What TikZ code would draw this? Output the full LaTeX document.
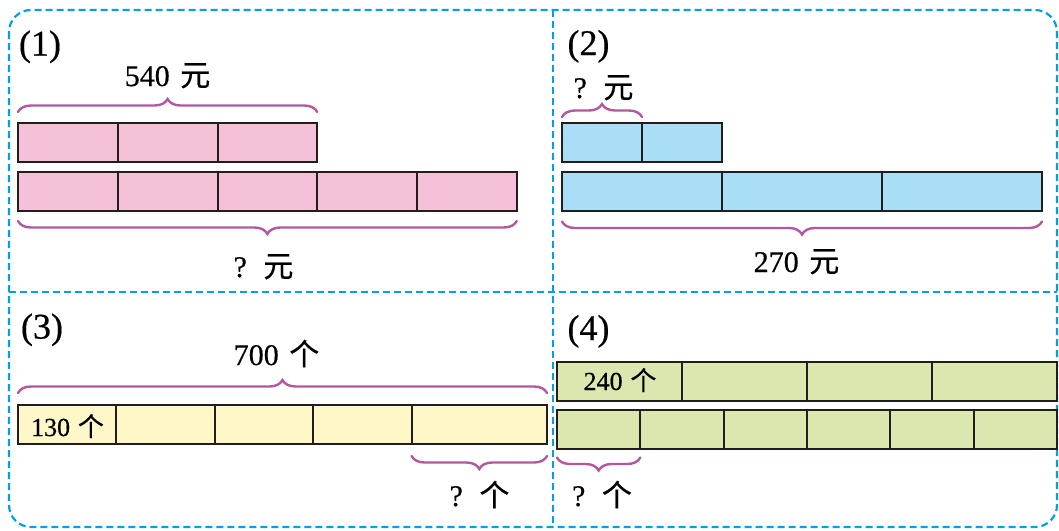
\documentclass[tikz,border=0pt]{standalone}
\usepackage{fontspec}
\setmainfont{Liberation Serif}[FakeBold=0.5]
\newfontfamily\cjk{Noto Sans CJK SC}[FakeBold=0.4]
\usetikzlibrary{decorations.pathreplacing,calc}
\definecolor{framec}{RGB}{0,160,233}
\definecolor{barline}{RGB}{35,30,30}
\definecolor{bracec}{RGB}{178,88,158}
\definecolor{pinkc}{RGB}{245,193,217}
\definecolor{bluec}{RGB}{170,222,247}
\definecolor{yellowc}{RGB}{255,247,200}
\definecolor{greenc}{RGB}{218,231,174}
\newcommand\yuanc{{\cjk 元}}
\newcommand\gec{{\cjk 个}}
\begin{document}
\begin{tikzpicture}[x=1pt,y=-1pt,
  cell/.style={draw=barline,line width=2pt,minimum height=39pt,inner sep=0pt,outer sep=0pt,anchor=north west},
  lbl/.style={anchor=base,inner sep=0pt,font=\fontsize{30}{36}\selectfont},
  slbl/.style={anchor=base,inner sep=0pt,font=\fontsize{26}{31}\selectfont},
  num/.style={anchor=base,inner sep=0pt,font=\fontsize{36}{43}\selectfont},
  brc/.style={decorate,decoration={brace,amplitude=13pt},draw=bracec,line width=2.4pt,line cap=round},
  brcm/.style={brc,decoration={brace,amplitude=13pt,mirror}},
  frame/.style={draw=framec,line width=2.2pt,dash pattern=on 7pt off 4pt}]
\useasboundingbox (0,0) rectangle (1059,530);
% frame
\draw[frame,rounded corners=22pt] (9,10) rectangle (1057,527);
\draw[frame] (553,10) -- (553,527);
\draw[frame] (9,292) -- (1057,292);
% panel 1
\foreach \i in {0,1,2} \node[cell,fill=pinkc,minimum width=99.75pt] (p1t\i) at ({18+99.75*\i},123) {};
\foreach \i in {0,...,4} \node[cell,fill=pinkc,minimum width=99.75pt] (p1b\i) at ({18+99.75*\i},172) {};
\draw[brc] ($(p1t0.north west)+(0,-11)$) -- ($(p1t2.north east)+(0,-11)$);
\draw[brcm] ($(p1b0.south west)+(0,10)$) -- ($(p1b4.south east)+(0,10)$);
\node[num] (n1) at (40,55.5) {(1)};
\node[lbl] (l540) at (167.5,86) {540\hspace{0.35em}\yuanc};
\node[lbl] (lq1) at (263.5,277) {?\hspace{0.55em}\yuanc};
% panel 2
\foreach \i in {0,1} \node[cell,fill=bluec,minimum width=80pt] (p2t\i) at ({562+80*\i},123) {};
\foreach \i in {0,1,2} \node[cell,fill=bluec,minimum width=160pt] (p2b\i) at ({562+160*\i},171.5) {};
\draw[brc] ($(p2t0.north west)+(0,-6)$) -- ($(p2t0.north east)+(0,-6)$);
\draw[brcm] ($(p2b0.south west)+(0,11)$) -- ($(p2b2.south east)+(0,11)$);
\node[num] (n2) at (588.5,55) {(2)};
\node[lbl] (lq2) at (603.5,98) {?\hspace{0.55em}\yuanc};
\node[lbl] (l270) at (796.5,272) {270\hspace{0.35em}\yuanc};
% panel 3
\foreach \i in {0,...,3} \node[cell,fill=yellowc,minimum width=98.4pt] (p3c\i) at ({18+98.4*\i},405) {};
\node[cell,fill=yellowc,minimum width=135.4pt] (p3c4) at (411.6,405) {};
\draw[brc] ($(p3c0.north west)+(0,-12)$) -- ($(p3c4.north east)+(0,-12)$);
\draw[brcm] ($(p3c4.south west)+(0,12)$) -- ($(p3c4.south east)+(0,12)$);
\node[num] (n3) at (42,338.5) {(3)};
\node[lbl] (l700) at (276.5,365) {700\hspace{0.35em}\gec};
\node[slbl] (l130) at (67.5,436) {130\hspace{0.3em}\gec};
\node[lbl] (lq3) at (479.5,506) {?\hspace{0.55em}\gec};
% panel 4
\foreach \i in {0,...,3} \node[cell,fill=greenc,minimum width=125pt] (p4t\i) at ({557+125*\i},361.5) {};
\foreach \i in {0,...,5} \node[cell,fill=greenc,minimum width=83.333pt] (p4b\i) at ({557+83.333*\i},409.5) {};
\draw[brcm] ($(p4b0.south west)+(0,9)$) -- ($(p4b0.south east)+(0,9)$);
\node[num] (n4) at (588.5,340) {(4)};
\node[slbl] (l240) at (620,390) {240\hspace{0.3em}\gec};
\node[lbl] (lq4) at (602,506) {?\hspace{0.55em}\gec};
\end{tikzpicture}
\end{document}
